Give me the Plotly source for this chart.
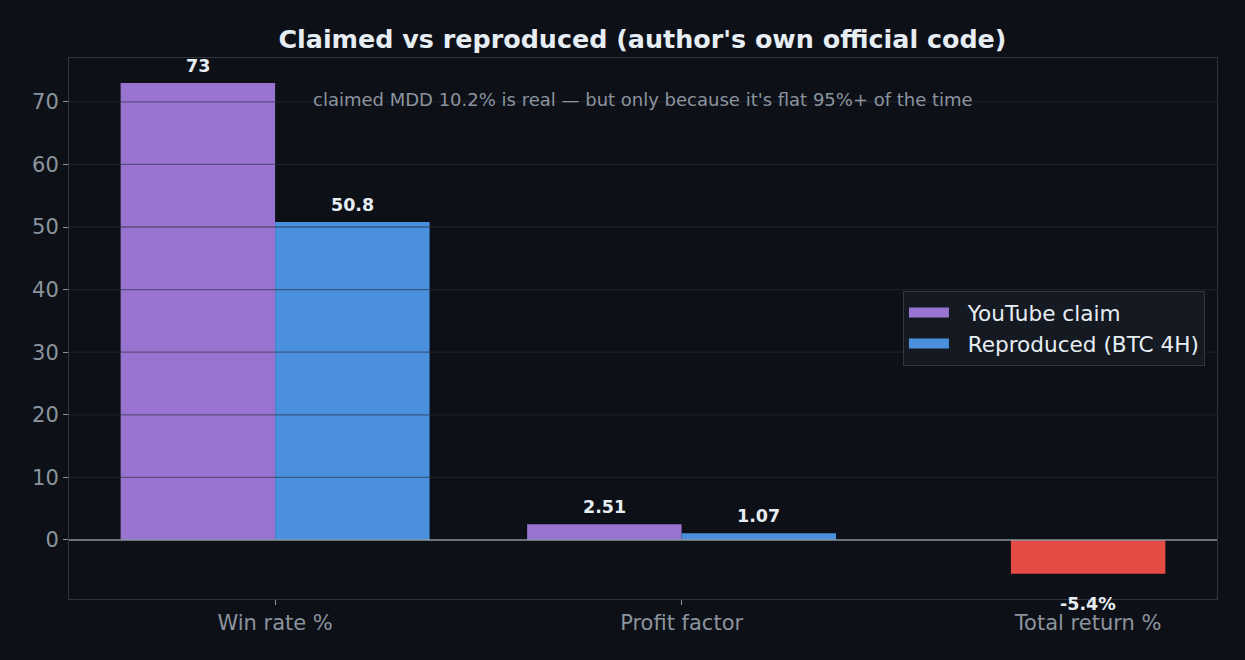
import plotly.graph_objects as go

# Data
categories = ["Win rate %", "Profit factor", "Total return %"]
claim_values = [73, 2.51]
claim_labels = ["73", "2.51"]
repro_values = [50.8, 1.07]
repro_labels = ["50.8", "1.07"]
total_return = [-5.4]
total_return_labels = ["-5.4%"]
y_ticks = [0, 10, 20, 30, 40, 50, 60, 70]

bg = "#0d1017"
text_col = "#e6edf3"
muted = "#8b949e"
spine = "#30363d"
purple = "#9874d0"
blue = "#4a90dd"
red = "#e34b44"
bar_w = 0.38
label_font = dict(size=17.5, color=text_col, family="DejaVu Sans", weight="bold")

x_pos = list(range(len(categories)))
claim_x = [x - bar_w / 2 for x in x_pos[:2]]
repro_x = [x + bar_w / 2 for x in x_pos[:2]]
ret_x = x_pos[2:]

fig = go.Figure()
fig.add_trace(go.Bar(x=claim_x, y=claim_values, width=bar_w, showlegend=False,
                     marker_color=purple, marker_line_width=0))
fig.add_trace(go.Bar(x=repro_x, y=repro_values, width=bar_w, showlegend=False,
                     marker_color=blue, marker_line_width=0))
# total return only exists for the reproduced run -> red, centred
fig.add_trace(go.Bar(x=ret_x, y=total_return, width=bar_w, showlegend=False,
                     marker_color=red, marker_line_width=0))

# value labels
for xs, vals, labs in [(claim_x, claim_values, claim_labels),
                       (repro_x, repro_values, repro_labels),
                       (ret_x, total_return, total_return_labels)]:
    for x, v, lab in zip(xs, vals, labs):
        fig.add_annotation(x=x, y=v, text=lab, showarrow=False, font=label_font,
                           yshift=17 if v >= 0 else -30)

# legend entries with wide rectangular patches (like matplotlib)
for name, col in [("YouTube claim", purple), ("Reproduced (BTC 4H)", blue)]:
    fig.add_trace(go.Scatter(x=[None], y=[None], mode="lines",
                             name="\u00a0\u00a0" + name,
                             line=dict(color=col, width=15)))

# matplotlib-style grid drawn over the bars
for t in y_ticks[1:]:
    fig.add_shape(type="line", xref="paper", yref="y", x0=0, x1=1, y0=t, y1=t,
                  line=dict(color="rgba(40,44,58,0.55)", width=1.3), layer="above")
fig.add_shape(type="line", xref="paper", yref="y", x0=0, x1=1, y0=0, y1=0,
              line=dict(color=muted, width=1.5), layer="above")

fig.add_annotation(
    text="claimed MDD 10.2% is real — but only because it's flat 95%+ of the time",
    xref="paper", yref="paper", x=0.5, y=0.946, showarrow=False,
    font=dict(size=18, color=muted, family="DejaVu Sans"),
)

fig.update_layout(
    width=1245, height=660,
    paper_bgcolor=bg, plot_bgcolor=bg,
    margin=dict(l=69, r=28, t=58, b=61),
    font=dict(family="DejaVu Sans", color=muted),
    title=dict(text="<b>Claimed vs reproduced (author's own official code)</b>",
               x=0.516, xanchor="center", y=0.94, yanchor="middle",
               font=dict(size=25.4, color=text_col)),
    barmode="overlay",
    legend=dict(x=0.9895, y=0.5, xanchor="right", yanchor="middle",
                bgcolor="#151a22", bordercolor=spine, borderwidth=1,
                font=dict(size=21.6, color=text_col), itemwidth=40),
    showlegend=True,
)
fig.update_xaxes(
    range=[-0.507, 2.317], tickvals=x_pos, ticktext=categories,
    showgrid=False, zeroline=False,
    showline=True, linecolor=spine, linewidth=1, mirror=True,
    ticks="outside", ticklen=5, tickcolor=muted,
    tickfont=dict(size=21, color=muted),
)
fig.update_yaxes(
    range=[-9.43, 77.0], tickvals=y_ticks, showgrid=False, zeroline=False,
    showline=True, linecolor=spine, linewidth=1, mirror=True,
    ticks="outside", ticklen=5, tickcolor=muted,
    tickfont=dict(size=21, color=muted),
)

fig.write_html("out.html", config={"displayModeBar": False},
               post_script="document.body.style.margin='0';")
